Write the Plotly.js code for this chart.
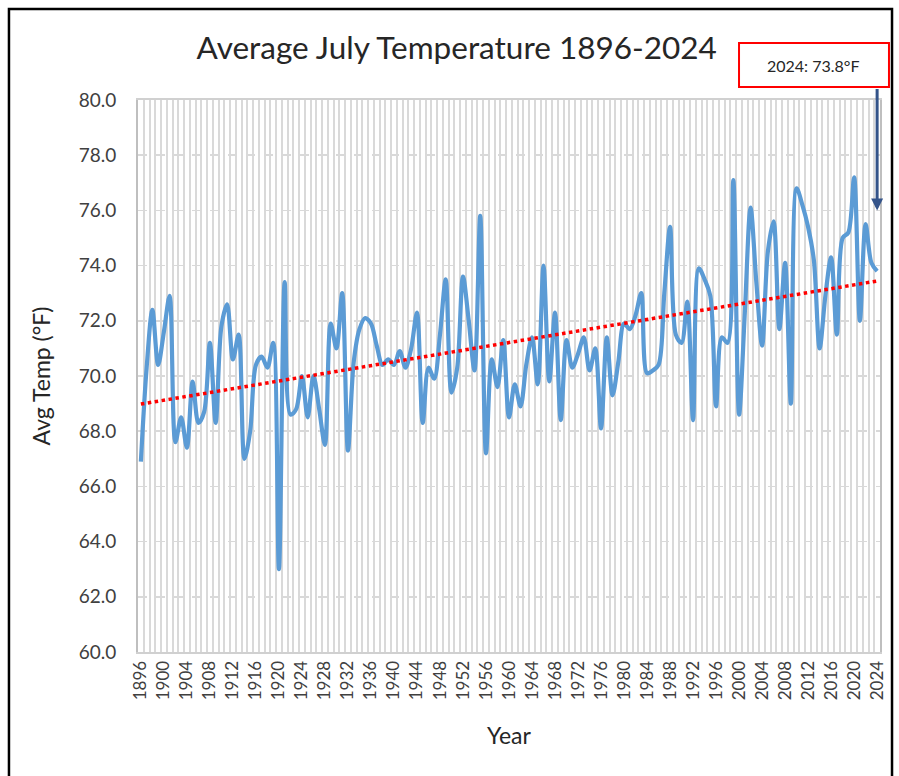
<!DOCTYPE html>
<html>
<head>
<meta charset="utf-8">
<script src="https://cdn.plot.ly/plotly-3.0.1.min.js"></script>
<style>
  html, body { margin: 0; padding: 0; background: #ffffff; }
  #chart { width: 899px; height: 776px; }
</style>
</head>
<body>
<div id="chart"></div>
<script>
// ---- Data ----
const firstYear = 1896;
const lastYear = 2024;
const years = [];
for (let y = firstYear; y <= lastYear; y++) years.push(y);

const julyTemps = [
  66.9, 70.3, 72.4, 70.4, 71.6, 72.9, 67.6, 68.5, 67.4, 69.8, // 1896-1905
  68.3, 68.7, 71.2, 68.3, 71.8, 72.6, 70.6, 71.5, 67.0, 68.0, // 1906-1915
  70.4, 70.7, 70.3, 71.2, 63.0, 73.4, 68.6, 68.8, 70.0, 68.5, // 1916-1925
  70.0, 68.8, 67.5, 71.9, 71.0, 73.0, 67.3, 70.5, 71.7, 72.1, // 1926-1935
  71.9, 71.1, 70.4, 70.6, 70.4, 70.9, 70.3, 71.0, 72.3, 68.3, // 1936-1945
  70.3, 69.9, 71.5, 73.5, 69.4, 70.3, 73.6, 72.0, 70.2, 75.8, // 1946-1955
  67.2, 70.6, 69.6, 71.3, 68.5, 69.7, 68.9, 70.4, 71.4, 69.7, // 1956-1965
  74.0, 69.8, 72.3, 68.4, 71.3, 70.3, 70.8, 71.4, 70.2, 71.0, // 1966-1975
  68.1, 71.4, 69.3, 70.5, 71.9, 71.7, 72.2, 73.0, 70.1, 70.2, // 1976-1985
  70.4, 73.0, 75.4, 71.5, 71.2, 72.7, 68.4, 73.9, 73.5, 72.9, // 1986-1995
  68.9, 71.4, 71.2, 77.1, 68.6, 72.3, 76.1, 73.4, 71.1, 74.5, // 1996-2005
  75.6, 71.7, 74.1, 69.0, 76.8, 76.2, 75.4, 74.2, 71.0, 72.9, // 2006-2015
  74.3, 71.5, 75.0, 75.2, 77.2, 72.0, 75.5, 74.1, 73.8        // 2016-2024
];

const yTickVals = [60, 62, 64, 66, 68, 70, 72, 74, 76, 78, 80];
const xTickVals = [];
for (let y = firstYear; y <= lastYear; y += 4) xTickVals.push(y);

// ---- Linear trend (least squares) ----
const n = years.length;
const mx = years.reduce((a, b) => a + b, 0) / n;
const my = julyTemps.reduce((a, b) => a + b, 0) / n;
let sxy = 0, sxx = 0;
for (let i = 0; i < n; i++) {
  sxy += (years[i] - mx) * (julyTemps[i] - my);
  sxx += (years[i] - mx) * (years[i] - mx);
}
const slope = sxy / sxx;
const intercept = my - slope * mx;
const trendX = [years[0], years[n - 1]];
const trendY = trendX.map(x => intercept + slope * x);

const FONT = 'Lato, "Open Sans", sans-serif';
const lastLabel = years[n - 1] + ': ' + julyTemps[n - 1].toFixed(1) + '°F';

const traces = [
  {
    x: years, y: julyTemps,
    type: 'scatter', mode: 'lines',
    line: { color: '#5b9bd5', width: 4.2, shape: 'spline', smoothing: 0.9 },
    hoverinfo: 'x+y', showlegend: false
  },
  {
    x: trendX, y: trendY,
    type: 'scatter', mode: 'lines',
    line: { color: '#ff0000', width: 3.5, dash: '3.5px,3.5px' },
    hoverinfo: 'skip', showlegend: false
  }
];

const layout = {
  width: 899, height: 776,
  margin: { l: 138, r: 19, t: 100, b: 124 },
  paper_bgcolor: '#ffffff',
  plot_bgcolor: '#ffffff',
  font: { family: FONT, color: '#262626' },
  title: {
    text: 'Average July Temperature 1896-2024',
    font: { family: FONT, size: 31.5, color: '#262626' },
    xref: 'container', x: 0.508, xanchor: 'center',
    yref: 'container', y: 0.938, yanchor: 'middle'
  },
  xaxis: {
    range: [firstYear - 0.5, lastYear + 0.5],
    tickmode: 'array', tickvals: xTickVals, ticktext: xTickVals.map(String),
    tickangle: -90,
    tickfont: { family: FONT, size: 17, color: '#404040' },
    ticks: '', ticklabelstandoff: 0,
    showgrid: false,
    minor: { tick0: firstYear - 0.5, dtick: 1, showgrid: true, gridcolor: '#d9d9d9', gridwidth: 2, ticks: '' },
    showline: true, linecolor: '#d0d0d0', linewidth: 2, mirror: true,
    zeroline: false,
    title: { text: 'Year', font: { family: FONT, size: 23, color: '#262626' }, standoff: 29 },
    automargin: false
  },
  yaxis: {
    range: [60, 80],
    tickmode: 'array', tickvals: yTickVals,
    tickformat: '.1f',
    tickfont: { family: FONT, size: 19, color: '#404040' },
    ticks: '', ticklabelstandoff: 16,
    showgrid: true, gridcolor: '#d9d9d9', gridwidth: 1.5, griddash: 'dash',
    showline: true, linecolor: '#bfbfbf', linewidth: 2, mirror: true,
    zeroline: false,
    title: { text: 'Avg Temp (°F)', font: { family: FONT, size: 23, color: '#262626' }, standoff: 22 },
    automargin: false
  },
  shapes: [
    { type: 'rect', xref: 'paper', yref: 'paper',
      x0: -0.1739, x1: 1.0162, y0: -0.3, y1: 1.1649,
      line: { color: '#000000', width: 2.5 }, fillcolor: 'rgba(0,0,0,0)', layer: 'above' },
    { type: 'rect', xref: 'paper', yref: 'paper',
      x0: 0.81, x1: 1.0121, y0: 1.0236, y1: 1.1033,
      line: { color: '#ff0000', width: 2 }, fillcolor: '#ffffff', layer: 'above' }
  ],
  annotations: [
    { x: years[n - 1], y: 76.0, xref: 'x', yref: 'y',
      ax: 0, ay: -123, axref: 'pixel', ayref: 'pixel',
      showarrow: true, arrowhead: 2, arrowsize: 0.8, arrowwidth: 3,
      arrowcolor: '#34548a', text: '', standoff: 0, startstandoff: 0 },
    { xref: 'paper', yref: 'paper', x: 0.911, y: 1.0634,
      xanchor: 'center', yanchor: 'middle',
      text: lastLabel, showarrow: false,
      font: { family: FONT, size: 16, color: '#262626' } }
  ]
};

Plotly.newPlot('chart', traces, layout, { displayModeBar: false, staticPlot: true });
</script>
</body>
</html>
